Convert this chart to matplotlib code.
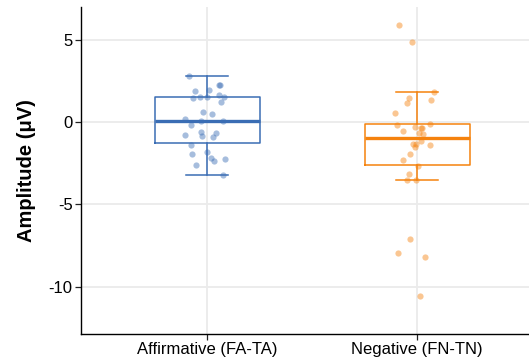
import numpy as np
import matplotlib
matplotlib.use("Agg")
import matplotlib.pyplot as plt

plt.rcParams["font.family"] = ["Liberation Sans", "DejaVu Sans"]

# ---- data ----
categories = ["Affirmative (FA-TA)", "Negative (FN-TN)"]

affirmative = [2.81, 2.26, 2.26, 1.85, 1.91, 1.61, 1.49, 1.43, 1.49, 1.49,
               1.19, 0.60, 0.46, 0.16, 0.06, 0.04, -0.20, -0.60, -0.66, -0.76,
               -0.84, -0.90, -1.40, -1.79, -1.97, -2.19, -2.37, -2.23, -2.61, -3.19]
affirmative_jitter = [-0.086, 0.057, 0.062, -0.057, 0.008, 0.059, 0.081, -0.068, -0.033, -0.001,
                      0.067, -0.017, 0.024, -0.106, -0.029, 0.075, -0.075, -0.027, 0.044, -0.103,
                      -0.024, 0.027, -0.076, -0.001, -0.071, 0.018, 0.033, 0.086, -0.052, 0.075]

negative = [5.89, 4.84, 1.81, 1.43, 1.14, 1.31, 0.57, -0.10, -0.18, -0.32,
            -0.39, -0.39, -0.52, -0.68, -0.72, -1.33, -1.36, -1.16, -1.49, -1.40,
            -1.93, -2.33, -2.67, -3.17, -3.53, -3.53, -7.07, -7.95, -8.21, -10.54]
negative_jitter = [-0.087, -0.024, 0.081, -0.038, -0.049, 0.065, -0.106, 0.062, -0.095, -0.010,
                   0.026, 0.021, -0.065, 0.008, 0.030, -0.018, -0.005, 0.019, -0.008, 0.063,
                   -0.035, -0.065, 0.003, -0.037, -0.046, -0.005, -0.033, -0.090, 0.038, 0.016]

colors = ["#3a6db4", "#f5820d"]
y_ticks = [5, 0, -5, -10]
y_label = "Amplitude (\u03bcV)"

groups = [affirmative, negative]
jitters = [affirmative_jitter, negative_jitter]

fig = plt.figure(figsize=(5.29, 3.62), dpi=100)
ax = fig.add_axes([81 / 529, 28 / 362, 1 - 81 / 529, (334 - 7) / 362])

ax.set_axisbelow(True)
ax.grid(True, color="#ebebeb", linewidth=1.3)

for i, (vals, jit, col) in enumerate(zip(groups, jitters, colors)):
    pos = i + 1
    ax.boxplot(
        [vals],
        positions=[pos],
        widths=0.5,
        showfliers=False,
        whis=1.5,
        boxprops=dict(color=col, linewidth=1.1),
        whiskerprops=dict(color=col, linewidth=1.1),
        capprops=dict(color=col, linewidth=1.1),
        medianprops=dict(color=col, linewidth=2.4),
        capwidths=0.2,
        zorder=2,
    )
    ax.scatter(
        pos + np.array(jit),
        vals,
        s=20,
        color=col,
        alpha=0.45,
        linewidths=0,
        zorder=3,
    )

ax.set_xlim(0.4, 1 + (529 - 207) / 210)
ax.set_ylim(-12.85, 6.97)
ax.set_xticks([1, 2])
ax.set_xticklabels(categories)
ax.set_yticks(y_ticks)
ax.set_yticklabels([str(t) for t in y_ticks])
ax.set_ylabel(y_label, fontsize=14.5, fontweight="bold", labelpad=9)

ax.tick_params(axis="both", labelsize=12, colors="#222222", length=4, width=0.9, pad=2)
ax.tick_params(axis="both", labelcolor="black")

for side in ["top", "right"]:
    ax.spines[side].set_visible(False)
for side in ["left", "bottom"]:
    ax.spines[side].set_linewidth(1.0)
    ax.spines[side].set_color("black")

fig.savefig("out.png", dpi=100)
